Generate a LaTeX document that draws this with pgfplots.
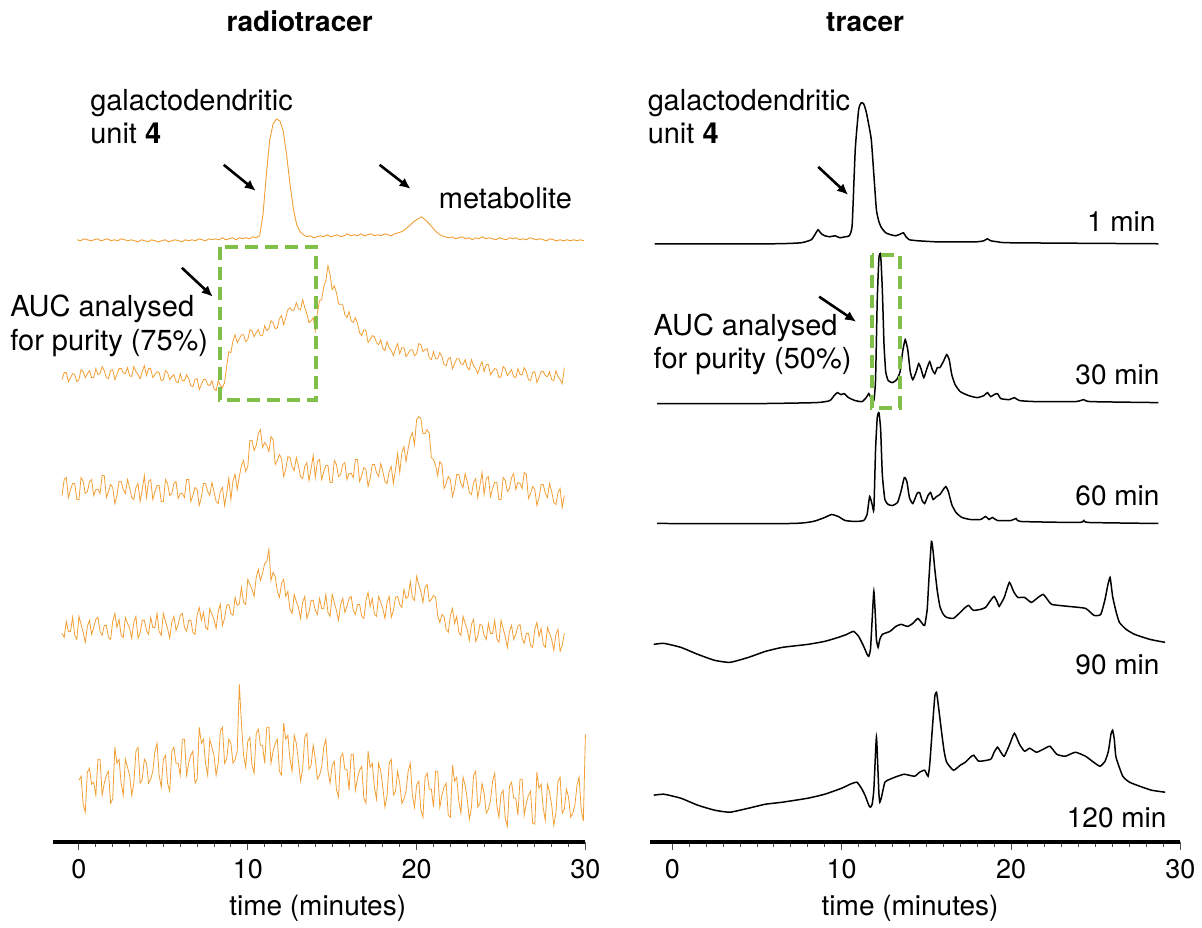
\documentclass[border=0pt]{standalone}
\usepackage{fontspec}
\setmainfont{TeX Gyre Heros}
\usepackage{pgfplots}
\pgfplotsset{compat=1.18}
\usepackage{pgfplotstable}
\usetikzlibrary{arrows.meta}
\definecolor{orng}{RGB}{242,158,52}
\definecolor{grn}{RGB}{128,192,72}
\newcommand{\ann}{\fontsize{14.5}{17}\selectfont}
\newcommand{\lab}{\fontsize{14}{16}\selectfont}

\pgfplotstableread[row sep=\\]{y\\
240\\241\\239\\240\\241\\240\\239\\241\\240\\239\\241\\240\\241\\239\\240\\241\\240\\241\\242\\240\\
241\\242\\240\\241\\242\\241\\240\\242\\241\\240\\241\\242\\240\\241\\240\\241\\239\\240\\241\\239\\
240\\239\\240\\238\\240\\239\\238\\240\\238\\239\\238\\239\\237\\238\\236\\
215\\175\\140\\124\\119\\121\\131\\155\\184\\209\\225\\232\\235\\237\\
236\\238\\237\\236\\237\\235\\237\\236\\235\\237\\236\\234\\236\\235\\236\\234\\236\\235\\234\\236\\235\\236\\234\\235\\236\\234\\
233\\232\\230\\227\\224\\221\\219\\217\\220\\223\\227\\231\\234\\236\\237\\238\\
237\\239\\238\\237\\239\\238\\240\\238\\239\\237\\239\\238\\239\\240\\238\\239\\240\\238\\239\\238\\
240\\239\\240\\238\\239\\240\\239\\240\\241\\239\\240\\241\\240\\241\\240\\241\\240\\241\\240\\241\\
}\oA

\pgfplotstableread[row sep=\\]{y\\
380\\373\\373\\382\\378\\374\\375\\382\\380\\370\\372\\378\\374\\371\\378\\378\\369\\375\\374\\367\\
371\\378\\379\\371\\370\\380\\375\\369\\369\\373\\374\\368\\376\\377\\367\\372\\375\\379\\372\\366\\
376\\369\\369\\378\\375\\372\\373\\381\\380\\371\\373\\380\\377\\375\\382\\383\\374\\381\\381\\375\\
379\\386\\387\\380\\379\\390\\385\\380\\380\\385\\386\\381\\389\\391\\381\\386\\388\\383\\367\\352\\
353\\341\\335\\343\\339\\335\\335\\342\\340\\330\\331\\337\\333\\330\\336\\336\\326\\331\\329\\321\\
323\\329\\328\\319\\316\\325\\318\\310\\308\\311\\310\\303\\309\\310\\300\\308\\314\\323\\321\\318\\
331\\313\\301\\300\\287\\281\\266\\275\\290\\286\\293\\304\\305\\305\\315\\318\\312\\321\\323\\318\\
324\\333\\336\\330\\331\\343\\340\\336\\337\\343\\345\\340\\349\\351\\342\\348\\351\\356\\349\\344\\
354\\348\\348\\357\\354\\350\\350\\356\\354\\344\\345\\352\\350\\349\\358\\360\\352\\359\\359\\353\\
357\\365\\366\\359\\358\\369\\364\\359\\359\\364\\365\\360\\368\\370\\360\\366\\369\\374\\367\\362\\
372\\365\\365\\375\\372\\369\\370\\378\\377\\367\\369\\376\\373\\370\\377\\378\\369\\375\\375\\368\\
372\\380\\381\\373\\372\\383\\378\\372\\372\\376\\377\\372\\380\\381\\371\\377\\380\\384\\368\\
}\oB

\pgfplotstableread[row sep=\\]{y\\
496\\480\\478\\498\\490\\484\\484\\500\\500\\478\\482\\494\\492\\482\\480\\496\\490\\490\\494\\476\\
476\\498\\492\\485\\488\\504\\496\\482\\482\\490\\494\\480\\488\\498\\500\\488\\484\\502\\490\\476\\
498\\482\\480\\500\\492\\486\\486\\502\\502\\480\\484\\496\\494\\484\\482\\499\\494\\494\\498\\480\\
480\\502\\496\\488\\490\\506\\498\\484\\484\\492\\496\\483\\492\\502\\504\\492\\488\\506\\494\\479\\
500\\481\\475\\490\\477\\466\\461\\472\\467\\441\\441\\451\\446\\434\\430\\448\\443\\446\\452\\437\\
440\\465\\461\\455\\459\\477\\470\\457\\458\\467\\471\\458\\466\\477\\479\\467\\463\\481\\469\\456\\
478\\462\\460\\480\\472\\466\\466\\483\\483\\461\\465\\477\\475\\465\\463\\480\\474\\474\\478\\460\\
460\\482\\476\\468\\470\\487\\479\\465\\465\\473\\477\\464\\472\\482\\484\\472\\467\\484\\470\\454\\
473\\453\\447\\462\\449\\438\\433\\445\\420\\417\\419\\434\\434\\430\\434\\458\\460\\466\\476\\462\\
465\\489\\484\\477\\480\\497\\489\\475\\475\\484\\488\\474\\482\\493\\495\\483\\479\\498\\486\\473\\
495\\479\\477\\497\\489\\483\\483\\500\\500\\478\\481\\492\\489\\478\\474\\490\\483\\484\\489\\473\\
475\\499\\494\\487\\490\\506\\498\\485\\485\\494\\498\\484\\492\\503\\505\\493\\489\\508\\496\\
}\oC

\pgfplotstableread[row sep=\\]{y\\
634\\638\\622\\632\\632\\618\\636\\640\\617\\625\\633\\643\\627\\621\\635\\628\\620\\618\\632\\636\\
626\\626\\638\\640\\622\\614\\628\\620\\636\\638\\618\\624\\629\\639\\623\\617\\639\\633\\621\\621\\
631\\635\\618\\628\\628\\614\\632\\636\\614\\622\\629\\639\\623\\617\\631\\625\\616\\614\\628\\632\\
621\\621\\633\\635\\616\\608\\621\\613\\628\\630\\609\\615\\620\\629\\612\\605\\626\\619\\606\\605\\
614\\616\\598\\606\\604\\588\\603\\605\\580\\585\\590\\597\\578\\570\\581\\574\\564\\562\\550\\581\\
573\\577\\592\\598\\584\\580\\597\\592\\610\\614\\595\\602\\608\\619\\603\\597\\619\\613\\601\\601\\
611\\615\\599\\609\\609\\595\\613\\617\\595\\603\\611\\621\\605\\599\\613\\607\\599\\597\\611\\615\\
605\\605\\617\\619\\601\\593\\607\\599\\615\\617\\597\\603\\609\\619\\603\\597\\618\\611\\598\\597\\
605\\608\\590\\599\\597\\582\\598\\601\\577\\585\\592\\603\\588\\585\\602\\600\\596\\598\\616\\623\\
615\\617\\630\\633\\616\\609\\624\\617\\633\\636\\617\\624\\630\\641\\625\\620\\642\\637\\625\\626\\
636\\640\\624\\634\\634\\621\\639\\643\\621\\629\\637\\648\\632\\626\\640\\635\\627\\625\\639\\644\\
634\\634\\646\\648\\630\\623\\637\\629\\645\\648\\628\\634\\640\\651\\635\\630\\652\\646\\634\\
}\oD

\pgfplotstableread[row sep=\\]{y\\
781\\777\\805\\813\\773\\769\\785\\783\\796\\760\\760\\796\\784\\776\\772\\804\\800\\748\\764\\760\\
784\\796\\760\\768\\776\\796\\784\\752\\748\\784\\780\\760\\764\\784\\780\\772\\752\\744\\776\\788\\
760\\756\\784\\792\\752\\748\\764\\764\\776\\740\\740\\776\\764\\756\\752\\784\\780\\728\\744\\740\\
764\\776\\740\\748\\756\\776\\764\\732\\728\\764\\760\\740\\744\\764\\760\\752\\685\\724\\756\\768\\
742\\738\\766\\774\\734\\730\\746\\746\\764\\728\\728\\764\\752\\744\\740\\772\\776\\724\\740\\736\\
760\\772\\736\\744\\762\\782\\770\\738\\734\\770\\766\\746\\760\\780\\776\\768\\748\\740\\772\\784\\
766\\762\\790\\798\\758\\754\\770\\770\\791\\755\\755\\791\\779\\771\\767\\799\\804\\752\\768\\764\\
788\\800\\764\\772\\788\\808\\796\\764\\760\\796\\792\\772\\784\\804\\800\\792\\772\\764\\796\\808\\
786\\782\\810\\818\\778\\774\\790\\790\\808\\772\\772\\808\\796\\788\\784\\816\\818\\766\\782\\778\\
802\\814\\778\\786\\800\\820\\808\\776\\772\\808\\804\\784\\794\\814\\810\\802\\782\\774\\806\\818\\
795\\791\\819\\827\\787\\783\\799\\799\\816\\780\\780\\816\\804\\796\\792\\824\\825\\773\\789\\785\\
809\\821\\785\\793\\806\\826\\814\\782\\778\\814\\810\\790\\798\\818\\814\\806\\786\\778\\810\\822\\
735\\
}\oE

\pgfplotsset{chrom/.style={
  anchor=south west, clip=false,
  axis y line=none, axis x line*=bottom,
  x axis line style={-, line width=2pt},
  ymin=85, ymax=928, y=0.5pt, ytick=\empty,
  y filter/.expression={928-y},
  xtick={0,10,20,30}, minor x tick num=9,
  tick align=outside,
  major tick length=4pt, minor tick length=2.4pt,
  every tick/.style={black!70, line width=0.5pt},
  xticklabel style={font=\fontsize{13.5}{15}\selectfont, yshift=-1pt},
  /pgf/number format/assume math mode=true,
}}

\begin{document}
\begin{tikzpicture}
\path (0pt,0pt) rectangle (601pt,-464pt);

\begin{axis}[chrom, at={(26.5pt,-421.5pt)}, x=8.45pt, xmin=-1.54, xmax=30]
\addplot[orng, line width=0.45pt] table[x expr=-0.1+0.2*\coordindex, y=y]{\oA};
\addplot[orng, line width=0.4pt] table[x expr=-1.0+0.125*\coordindex, y=y]{\oB};
\addplot[orng, line width=0.4pt] table[x expr=-1.0+0.125*\coordindex, y=y]{\oC};
\addplot[orng, line width=0.4pt] table[x expr=-1.0+0.125*\coordindex, y=y]{\oD};
\addplot[orng, line width=0.4pt] table[x expr=0.0+0.125*\coordindex, y=y]{\oE};
\end{axis}

\begin{axis}[chrom, at={(325.5pt,-421.5pt)}, x=8.475pt, xmin=-1.30, xmax=30]
% 1 min
\addplot[black, line width=0.75pt, smooth, tension=0.3] coordinates {
(-1.05,244) (6,244) (7.6,243) (8.2,240) (8.45,234) (8.6,230) (8.8,234) (9.0,236) (9.3,237)
(9.6,236) (9.9,238) (10.2,237) (10.45,236) (10.62,225) (10.8,150) (11.0,110) (11.15,103)
(11.3,104) (11.45,112) (11.6,125) (11.75,140) (11.9,175) (12.05,210) (12.2,222) (12.35,228)
(12.6,233) (12.9,235) (13.2,236) (13.5,234) (13.65,233) (13.8,237) (14.0,240) (14.5,241)
(15.5,242) (16.5,242) (18.0,242) (18.4,241) (18.6,239) (18.8,241) (19.2,242) (20,243) (28.7,244)};
% 30 min
\addplot[black, line width=0.75pt, smooth, tension=0.3] coordinates {
(-0.9,404) (5,404) (8.5,403) (9.3,401) (9.55,396) (9.75,393) (9.95,395) (10.15,394) (10.4,398)
(10.8,401) (11.2,402) (11.45,398) (11.6,394) (11.75,399) (11.9,401) (12.0,380) (12.1,300)
(12.2,258) (12.3,255) (12.4,290) (12.5,345) (12.6,372) (12.75,381) (13.0,383) (13.25,380)
(13.45,372) (13.6,352) (13.75,340) (13.9,350) (14.05,372) (14.2,380) (14.4,372) (14.55,364)
(14.7,370) (14.85,378) (15.05,368) (15.2,362) (15.35,370) (15.5,374) (15.65,368) (15.8,368)
(16.0,362) (16.2,355) (16.35,360) (16.5,375) (16.7,385) (17.0,392) (17.5,396) (18.0,398)
(18.4,396) (18.6,393) (18.8,397) (19.0,395) (19.2,394) (19.4,399) (19.9,400) (20.2,398)
(20.5,401) (21.5,402) (23.8,402) (24.3,400) (24.7,402) (28.7,403)};
% 60 min
\addplot[black, line width=0.75pt, smooth, tension=0.3] coordinates {
(-0.9,524) (7,524) (8.3,522) (9.0,518) (9.4,515) (9.8,517) (10.2,521) (10.8,522) (11.3,521)
(11.5,515) (11.65,497) (11.8,505) (11.9,510) (12.0,450) (12.1,418) (12.2,413) (12.3,430)
(12.4,475) (12.55,500) (12.75,505) (13.0,506) (13.3,503) (13.5,492) (13.7,478) (13.85,482)
(14.0,498) (14.2,504) (14.45,494) (14.6,493) (14.75,501) (14.9,504) (15.1,496) (15.25,493)
(15.4,500) (15.6,497) (15.8,495) (16.0,490) (16.15,487) (16.3,492) (16.5,505) (16.75,513)
(17.1,518) (17.6,520) (18.2,520) (18.5,517) (18.7,520) (18.9,518) (19.2,521) (20.0,521)
(20.3,519) (20.6,522) (24.0,523) (24.3,521) (24.6,523) (28.7,524)};
% 90 min
\addplot[black, line width=0.75pt, smooth, tension=0.3] coordinates {
(-1.1,645) (-0.5,644) (0.5,648) (1.5,655) (2.5,661) (3.4,663) (4.5,658) (5.5,652) (6.5,648)
(8.0,645) (9.0,642) (9.8,638) (10.3,635) (10.7,632) (11.0,637) (11.3,647) (11.5,655) (11.6,657)
(11.7,650) (11.8,620) (11.9,592) (12.0,620) (12.05,640) (12.15,648) (12.25,640) (12.4,635)
(12.85,632) (13.2,627) (13.5,625) (13.9,627) (14.2,624) (14.5,619) (14.75,624) (14.9,626)
(15.05,610) (15.15,580) (15.3,542) (15.4,552) (15.5,570) (15.65,592) (15.8,607) (16.0,615)
(16.2,618) (16.6,619) (17.0,613) (17.3,608) (17.5,606) (17.7,610) (17.8,611) (18.2,610)
(18.5,608) (18.75,602) (19.0,597) (19.2,603) (19.3,607) (19.6,598) (19.9,583) (20.15,592)
(20.4,598) (20.8,598) (21.2,603) (21.6,598) (21.9,595) (22.15,600) (22.4,605) (23.4,607)
(24.4,609) (24.9,616) (25.3,615) (25.55,600) (25.7,587) (25.85,578) (26.0,597) (26.2,612)
(26.4,623) (26.8,630) (27.3,635) (28.2,640) (29.1,643)};
% 120 min
\addplot[black, line width=0.75pt, smooth, tension=0.3] coordinates {
(-1.1,796) (-0.5,795) (0.5,799) (1.5,806) (2.5,811) (3.4,813) (4.5,809) (5.5,805) (6.5,803)
(8.0,799) (9.0,795) (10.0,789) (10.5,785) (10.9,783) (11.2,790) (11.4,797) (11.6,806) (11.7,808)
(11.8,805) (11.9,790) (12.05,738) (12.15,775) (12.2,795) (12.25,803) (12.35,798) (12.55,783)
(12.85,780) (13.3,777) (13.7,775) (14.3,777) (14.6,773) (14.9,771) (15.1,777) (15.2,765)
(15.35,730) (15.5,697) (15.6,693) (15.7,705) (15.9,733) (16.05,752) (16.2,763) (16.6,771)
(17.0,766) (17.3,763) (17.6,758) (17.8,756) (18.1,762) (18.8,760) (19.0,753) (19.2,748)
(19.4,753) (19.6,757) (19.9,746) (20.2,734) (20.5,745) (20.8,752) (21.1,749) (21.5,753)
(21.9,750) (22.3,747) (22.7,755) (23.2,757) (23.8,753) (24.4,757) (24.8,762) (25.25,767)
(25.55,762) (25.75,752) (25.9,735) (26.0,731) (26.1,740) (26.2,758) (26.6,777) (27.0,783)
(27.6,787) (28.3,791) (29.1,793)};
\end{axis}

\begin{scope}[x=0.5pt,y=-0.5pt]
% titles
\node[font=\fontsize{14}{16}\selectfont\bfseries, anchor=base] at (300,32) {radiotracer};
\node[font=\fontsize{14}{16}\selectfont\bfseries, anchor=base] at (866,32) {tracer};
% x labels
\node[font=\lab, anchor=base] at (318,916) {time (minutes)};
\node[font=\lab, anchor=base] at (911,916) {time (minutes)};
% left annotations
\node[font=\ann, anchor=base west, inner sep=0pt] at (90,111) {galactodendritic};
\node[font=\ann, anchor=base west, inner sep=0pt] at (90,144) {unit \textbf{4}};
\node[font=\ann, anchor=base west, inner sep=0pt] at (439,209) {metabolite};
\node[font=\ann, anchor=base west, inner sep=0pt] at (10,317) {AUC analysed};
\node[font=\ann, anchor=base west, inner sep=0pt] at (10,351) {for purity (75\%)};
% right annotations
\node[font=\ann, anchor=base west, inner sep=0pt] at (648,111) {galactodendritic};
\node[font=\ann, anchor=base west, inner sep=0pt] at (648,144) {unit \textbf{4}};
\node[font=\ann, anchor=base west, inner sep=0pt] at (654,336) {AUC analysed};
\node[font=\ann, anchor=base west, inner sep=0pt] at (654,369) {for purity (50\%)};
\node[font=\lab, anchor=base east, inner sep=0pt] at (1157,232) {1 min};
\node[font=\lab, anchor=base east, inner sep=0pt] at (1161,385) {30 min};
\node[font=\lab, anchor=base east, inner sep=0pt] at (1161,506) {60 min};
\node[font=\lab, anchor=base east, inner sep=0pt] at (1161,675) {90 min};
\node[font=\lab, anchor=base east, inner sep=0pt] at (1168,828) {120 min};
% arrows
\begin{scope}[line width=1.3pt, -{Latex[length=5.5pt,width=5pt]}]
\draw (224,165) -- (256,191);
\draw (380,165) -- (411,189);
\draw (182,268) -- (213,297);
\draw (819,167) -- (849,195);
\draw (820,297) -- (857,322);
\end{scope}
% dashed boxes
\draw[grn, line width=2pt, dash pattern=on 6.5pt off 3.5pt] (220,247) rectangle (316,400);
\draw[grn, line width=2pt, dash pattern=on 6.5pt off 3.5pt] (873,255) rectangle (901,408);
\end{scope}
\end{tikzpicture}
\end{document}
